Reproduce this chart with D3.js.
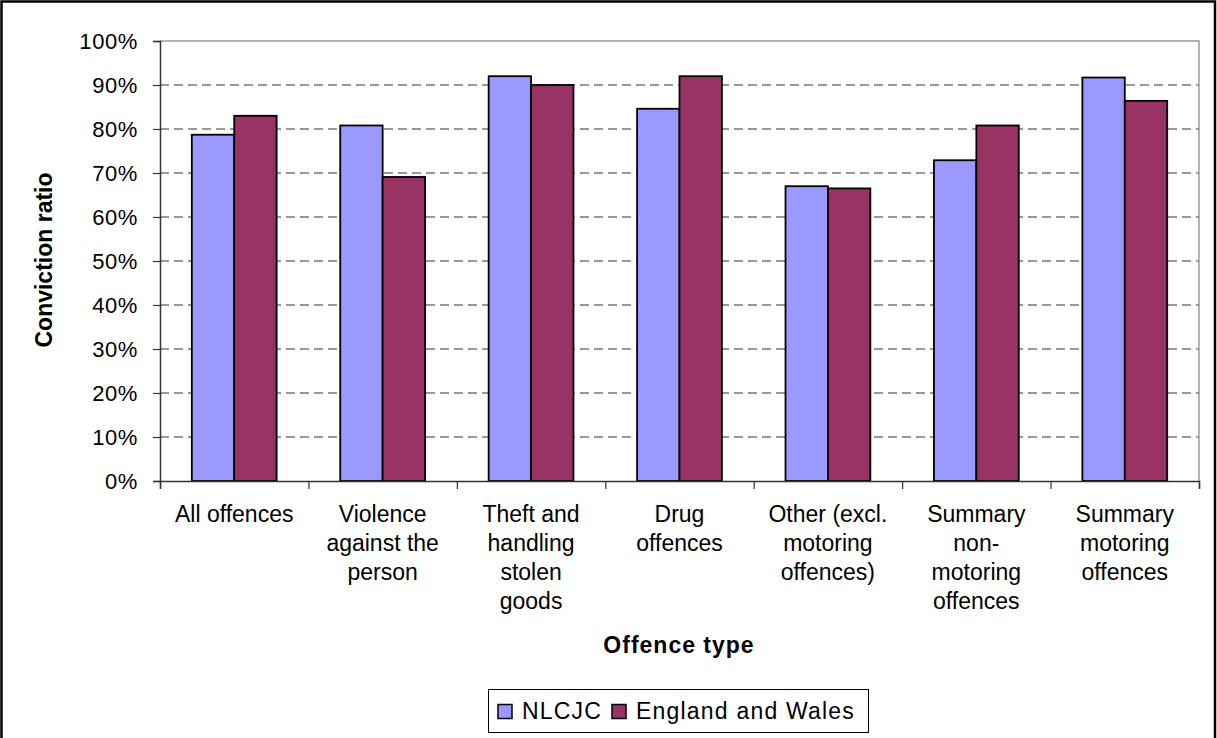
<!DOCTYPE html>
<html>
<head>
<meta charset="utf-8">
<script src="https://cdn.jsdelivr.net/npm/d3@7"></script>
<style>
  html, body { margin: 0; padding: 0; background: #fff; }
  svg { display: block; }
  text { font-family: "Liberation Sans", Arial, sans-serif; fill: #000; }
</style>
</head>
<body>
<svg id="chart" width="1217" height="738"></svg>
<script>
// Offence categories (each entry is the wrapped label lines)
const categories = [
  ["All offences"],
  ["Violence", "against the", "person"],
  ["Theft and", "handling", "stolen", "goods"],
  ["Drug", "offences"],
  ["Other (excl.", "motoring", "offences)"],
  ["Summary", "non-", "motoring", "offences"],
  ["Summary", "motoring", "offences"]
];
const seriesNames = ["NLCJC", "England and Wales"];
// Conviction ratio, percent
const nlcjc = [78.7, 80.8, 92.0, 84.6, 67.0, 72.9, 91.7];
const englandWales = [83.0, 69.1, 90.0, 92.0, 66.5, 80.8, 86.4];
const yTicks = [0, 10, 20, 30, 40, 50, 60, 70, 80, 90, 100];

const colors = ["#9999FF", "#993366"];
const seriesValues = [nlcjc, englandWales];

const svg = d3.select("#chart");
const plot = { left: 160, right: 1199, top: 41, bottom: 481 };

// outer frame
svg.append("rect")
  .attr("x", 1.5).attr("y", 1.5)
  .attr("width", 1213.5).attr("height", 745)
  .attr("fill", "none").attr("stroke", "#000").attr("stroke-width", 2.5);

const catKeys = categories.map((c, i) => i);
const x0 = d3.scaleBand().domain(catKeys).range([plot.left, plot.right]).padding(0);
const groupW = x0.bandwidth() * 2 / 3.5;
const x1 = d3.scaleBand().domain([0, 1]).range([0, groupW]).padding(0);
const y = d3.scaleLinear().domain([0, 100]).range([plot.bottom, plot.top]);

// dashed gridlines
svg.append("g")
  .selectAll("line")
  .data(yTicks.filter(t => t > 0 && t < 100))
  .join("line")
  .attr("x1", plot.left).attr("x2", plot.right)
  .attr("y1", d => y(d)).attr("y2", d => y(d))
  .attr("stroke", "#333").attr("stroke-width", 1)
  .attr("stroke-dasharray", "9,5");

// plot-area border (top and right)
svg.append("path")
  .attr("d", `M${plot.left},${plot.top}H${plot.right}V${plot.bottom}`)
  .attr("fill", "none").attr("stroke", "#999").attr("stroke-width", 1.5);

// bars
const groups = svg.append("g")
  .selectAll("g")
  .data(catKeys)
  .join("g")
  .attr("transform", i => `translate(${x0(i) + (x0.bandwidth() - groupW) / 2},0)`);

groups.selectAll("rect")
  .data(i => seriesValues.map((vals, s) => ({ s, v: vals[i] })))
  .join("rect")
  .attr("x", d => x1(d.s))
  .attr("width", x1.bandwidth())
  .attr("y", d => y(d.v))
  .attr("height", d => y(0) - y(d.v))
  .attr("fill", d => colors[d.s])
  .attr("stroke", "#000").attr("stroke-width", 1.8);

// y axis
const yAxis = d3.axisLeft(y)
  .tickValues(yTicks)
  .tickSize(7)
  .tickPadding(15)
  .tickFormat(d => d + "%");
const gy = svg.append("g")
  .attr("transform", `translate(${plot.left},0)`)
  .call(yAxis);
gy.select(".domain").attr("stroke", "#333").attr("stroke-width", 1.5);
gy.selectAll(".tick line").attr("stroke", "#333").attr("stroke-width", 1.2);
gy.selectAll(".tick text")
  .attr("font-family", "Liberation Sans, Arial, sans-serif")
  .attr("font-size", 22).attr("letter-spacing", 0.6).attr("fill", "#000");

// x axis: ticks at category boundaries, labels wrapped under each band
const xb = d3.scaleLinear().domain([0, categories.length]).range([plot.left, plot.right]);
const gx = svg.append("g")
  .attr("transform", `translate(0,${plot.bottom})`)
  .call(d3.axisBottom(xb).tickValues(d3.range(categories.length + 1)).tickSize(8).tickFormat(""));
gx.select(".domain").attr("stroke", "#333").attr("stroke-width", 1.5);
gx.selectAll(".tick line").attr("stroke", "#333").attr("stroke-width", 1.2);

const labels = svg.append("g")
  .selectAll("text")
  .data(catKeys)
  .join("text")
  .attr("x", i => x0(i) + x0.bandwidth() / 2)
  .attr("y", 522)
  .attr("text-anchor", "middle")
  .attr("font-size", 23);
labels.selectAll("tspan")
  .data(i => categories[i].map((line, k) => ({ line, k, i })))
  .join("tspan")
  .attr("x", d => x0(d.i) + x0.bandwidth() / 2)
  .attr("dy", d => d.k === 0 ? 0 : 29)
  .text(d => d.line);

// axis titles
svg.append("text")
  .attr("transform", `translate(52,260) rotate(-90)`)
  .attr("text-anchor", "middle")
  .attr("font-size", 23).attr("font-weight", "bold")
  .text("Conviction ratio");

svg.append("text")
  .attr("x", 679).attr("y", 653)
  .attr("text-anchor", "middle")
  .attr("font-size", 23).attr("font-weight", "bold").attr("letter-spacing", 1)
  .text("Offence type");

// legend
const legend = svg.append("g");
legend.append("rect")
  .attr("x", 488.5).attr("y", 689.5)
  .attr("width", 380).attr("height", 43)
  .attr("fill", "#fff").attr("stroke", "#000").attr("stroke-width", 1);
const legendItems = [
  { name: seriesNames[0], color: colors[0], sx: 498, tx: 522 },
  { name: seriesNames[1], color: colors[1], sx: 612, tx: 636 }
];
legend.selectAll("g.item")
  .data(legendItems)
  .join("g")
  .attr("class", "item")
  .each(function (d) {
    const g = d3.select(this);
    g.append("rect")
      .attr("x", d.sx).attr("y", 704.5)
      .attr("width", 14).attr("height", 14)
      .attr("fill", d.color).attr("stroke", "#000").attr("stroke-width", 1.5);
    g.append("text")
      .attr("x", d.tx).attr("y", 719)
      .attr("font-size", 23).attr("letter-spacing", 1.2)
      .text(d.name);
  });
</script>
</body>
</html>
